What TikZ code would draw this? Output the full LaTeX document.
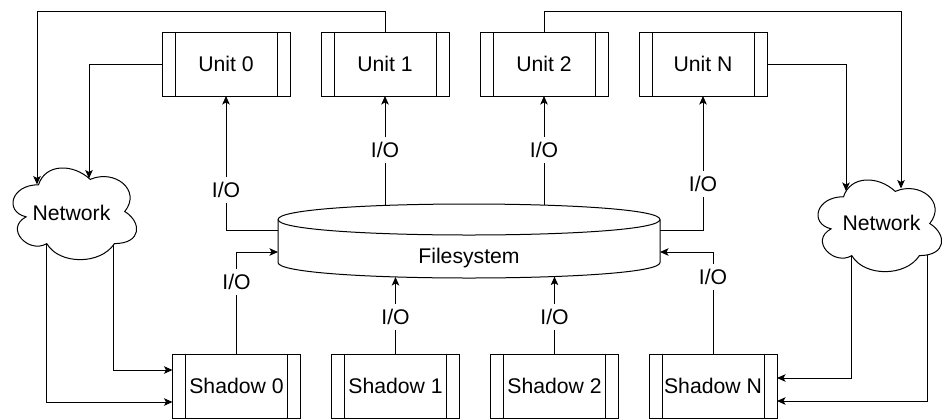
\documentclass[tikz,border=0pt]{standalone}
\usepackage{fontspec}
\setmainfont{Liberation Sans}
\usetikzlibrary{arrows.meta}

% cloud outline inside a box: #1 top-left corner, #2 width, #3 height
\newcommand\netcloud[3]{%
  \begin{scope}[shift={#1}, x=#2, y=-#3]
    \draw[fill=white] (0.25,0.25) .. controls (0.05,0.25) and (0,0.5) .. (0.16,0.55)
      .. controls (0,0.66) and (0.18,0.9) .. (0.31,0.8)
      .. controls (0.4,1) and (0.7,1) .. (0.8,0.8)
      .. controls (1,0.8) and (1,0.6) .. (0.875,0.5)
      .. controls (1,0.3) and (0.8,0.1) .. (0.625,0.2)
      .. controls (0.5,0.05) and (0.3,0.05) .. (0.25,0.25) -- cycle;
  \end{scope}}

\begin{document}
\begin{tikzpicture}[x=1pt, y=-1pt, line width=1pt,
  every node/.style={font=\fontsize{21.2}{25}\selectfont, inner sep=0pt, outer sep=0pt,
    text height=15.2pt, text depth=0pt},
  procbox/.style={draw, fill=white, minimum width=128pt, minimum height=64pt},
  iolab/.style={fill=white, minimum height=26pt, inner xsep=1pt},
  arr/.style={-{Stealth[length=8.5pt, width=7.5pt, inset=2pt]}}]

\useasboundingbox (0,0) rectangle (944,418);

% worker units
\node[procbox] (u0) at (226,64) {Unit 0};
\node[procbox] (u1) at (385,64) {Unit 1};
\node[procbox] (u2) at (544,64) {Unit 2};
\node[procbox] (uN) at (703,64) {Unit N};

% shadow processes
\node[procbox] (s0) at (236.5,386) {Shadow 0};
\node[procbox] (s1) at (395.5,386) {Shadow 1};
\node[procbox] (s2) at (554.5,386) {Shadow 2};
\node[procbox] (sN) at (713,386) {Shadow N};

% side bars of the process boxes
\foreach \n in {u0,u1,u2,uN,s0,s1,s2,sN}{
  \draw ([xshift=13pt]\n.north west) -- ([xshift=13pt]\n.south west);
  \draw ([xshift=-13pt]\n.north east) -- ([xshift=-13pt]\n.south east);
}

% shared filesystem (cylinder)
\node[minimum width=382pt, minimum height=74pt] (fs) at (469,241) {};
\draw[fill=white] (278,219.5) .. controls (278,198.83) and (660,198.83) .. (660,219.5)
  -- (660,262.5) .. controls (660,283.17) and (278,283.17) .. (278,262.5) -- cycle;
\draw (278,219.5) .. controls (278,240.17) and (660,240.17) .. (660,219.5);
\node (fstext) at (469,255.5) {Filesystem};

\coordinate (fsT1) at (385,205.4);
\coordinate (fsT2) at (544,205.1);
\coordinate (fsB1) at (395.5,277.0);
\coordinate (fsB2) at (554.5,276.6);

% filesystem <-> units / shadows
\draw[arr] ([yshift=11pt]fs.west) -| (u0.south);
\draw[arr] (fsT1) -- (u1.south);
\draw[arr] (fsT2) -- (u2.south);
\draw[arr] ([yshift=11pt]fs.east) -| (uN.south);
\draw[arr] (s0.north) |- ([yshift=-11pt]fs.west);
\draw[arr] (s1.north) -- (fsB1);
\draw[arr] (s2.north) -- (fsB2);
\draw[arr] (sN.north) |- ([yshift=-11pt]fs.east);

\node[iolab] (io-u0) at (226,189.5) {I/O};
\node[iolab] (io-u1) at (385,150) {I/O};
\node[iolab] (io-u2) at (544,150) {I/O};
\node[iolab] (io-uN) at (703,183.5) {I/O};
\node[iolab] (io-s0) at (236.5,282) {I/O};
\node[iolab] (io-s1) at (395.5,317) {I/O};
\node[iolab] (io-s2) at (554.5,317) {I/O};
\node[iolab] (io-sN) at (713,277) {I/O};

% network links leaving the clouds (start inside, covered by the cloud fill)
\coordinate (nLc) at (113,235);
\coordinate (nLd) at (46,235);
\coordinate (nRc) at (851,245);
\coordinate (nRd) at (927,245);
\draw[arr] (nLc) |- ([yshift=16pt]s0.west);
\draw[arr] (nLd) |- ([yshift=-16pt]s0.west);
\draw[arr] (nRc) |- ([yshift=8pt]sN.east);
\draw[arr] (nRd) |- ([yshift=-15pt]sN.east);

% networks
\netcloud{(4,158)}{138pt}{107pt}
\netcloud{(809,170)}{138pt}{107pt}
\node (netL) at (71.5,213) {Network};
\node (netR) at (881.5,223) {Network};

% network links entering the clouds
\coordinate (nLa) at (37,184.5);
\coordinate (nLb) at (89,178.5);
\coordinate (nRa) at (901,188.5);
\coordinate (nRb) at (846,191);
\draw[arr] (u1.north) -- ++(0,-21) -| (nLa);
\draw[arr] (u0.west) -| (nLb);
\draw[arr] (u2.north) -- ++(0,-21) -| (nRa);
\draw[arr] (uN.east) -| (nRb);

\end{tikzpicture}
\end{document}
